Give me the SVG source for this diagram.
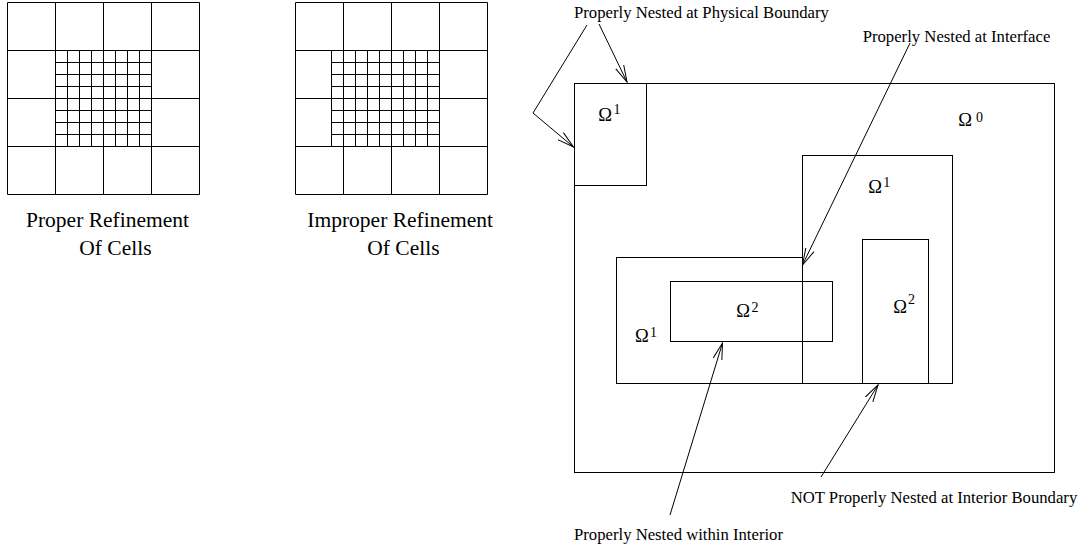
<svg xmlns="http://www.w3.org/2000/svg" width="1083" height="548" viewBox="0 0 1083 548">
<style>
.ln{fill:none;stroke:#000;stroke-width:1}
.t{font-family:"Liberation Serif","Times New Roman",serif;fill:#000}
.cap{font-size:21.5px}
.lab{font-size:16.7px}
.om{font-size:18.5px}
.sup{font-size:14px}
</style>
<defs>
<marker id="ah" viewBox="0 0 18 10" refX="17" refY="5" markerWidth="18" markerHeight="10" markerUnits="userSpaceOnUse" orient="auto">
<path d="M0,0.5 L17,5 L0,9.5" fill="none" stroke="#000" stroke-width="1"/>
</marker>
</defs>
<rect width="1083" height="548" fill="#fff"/>

<g id="grid-proper">
<path class="ln" d="M7.5 2.5V194.5M55.5 2.5V194.5M103.5 2.5V194.5M151.5 2.5V194.5M199.5 2.5V194.5M7.5 2.5H199.5M7.5 50.5H199.5M7.5 98.5H199.5M7.5 146.5H199.5M7.5 194.5H199.5M67.5 50.5V146.5M79.5 50.5V146.5M91.5 50.5V146.5M115.5 50.5V146.5M127.5 50.5V146.5M139.5 50.5V146.5M55.5 62.5H151.5M55.5 74.5H151.5M55.5 86.5H151.5M55.5 110.5H151.5M55.5 122.5H151.5M55.5 134.5H151.5"/>
<text class="t cap" x="26" y="226.7">Proper Refinement</text>
<text class="t cap" x="79.3" y="255">Of Cells</text>
</g>

<g id="grid-improper">
<path class="ln" d="M295.5 2.5V194.5M343.5 2.5V194.5M391.5 2.5V194.5M439.5 2.5V194.5M487.5 2.5V194.5M295.5 2.5H487.5M295.5 50.5H487.5M295.5 98.5H487.5M295.5 146.5H487.5M295.5 194.5H487.5M331.5 50.5V146.5M355.5 50.5V146.5M367.5 50.5V146.5M379.5 50.5V146.5M403.5 50.5V146.5M415.5 50.5V146.5M427.5 50.5V146.5M331.5 62.5H439.5M331.5 74.5H439.5M331.5 86.5H439.5M331.5 110.5H439.5M331.5 122.5H439.5M331.5 134.5H439.5"/>
<text class="t cap" x="307.3" y="226.7">Improper Refinement</text>
<text class="t cap" x="367.3" y="255">Of Cells</text>
</g>

<g id="omega0">
<rect class="ln" x="574.5" y="83.5" width="480" height="389"/>
<text class="t om" x="958.3" y="126">Ω</text>
<text class="t sup" x="976" y="122">0</text>
</g>

<g id="omega1-corner">
<rect class="ln" x="574.5" y="83.5" width="72" height="102"/>
<text class="t om" x="598.3" y="120.7">Ω</text>
<text class="t sup" x="613.5" y="113.5">1</text>
</g>

<g id="omega1-right">
<rect class="ln" x="802.5" y="155.5" width="150" height="228"/>
<text class="t om" x="868.3" y="192.7">Ω</text>
<text class="t sup" x="883.3" y="186.5">1</text>
</g>

<g id="omega1-left">
<rect class="ln" x="616.5" y="257.5" width="186" height="126"/>
<text class="t om" x="635" y="341.7">Ω</text>
<text class="t sup" x="650" y="336.5">1</text>
</g>

<g id="omega2-inner">
<rect class="ln" x="670.5" y="281.5" width="162" height="60"/>
<text class="t om" x="736.2" y="317.3">Ω</text>
<text class="t sup" x="751.5" y="311.5">2</text>
</g>

<g id="omega2-right">
<rect class="ln" x="862.5" y="239.5" width="66" height="144"/>
<text class="t om" x="893.3" y="313.3">Ω</text>
<text class="t sup" x="908" y="304">2</text>
</g>

<g id="labels">
<text class="t lab" x="574" y="18.3">Properly Nested at Physical Boundary</text>
<text class="t lab" x="862.7" y="41.7">Properly Nested at Interface</text>
<text class="t lab" x="790.7" y="503">NOT Properly Nested at Interior Boundary</text>
<text class="t lab" x="574" y="540">Properly Nested within Interior</text>
</g>

<g id="connectors" class="ln">
<polyline class="ln" points="587,25 533,113 573.5,147" marker-end="url(#ah)"/>
<line class="ln" x1="599" y1="24" x2="627" y2="82" marker-end="url(#ah)"/>
<line class="ln" x1="910" y1="43" x2="802.5" y2="265" marker-end="url(#ah)"/>
<line class="ln" x1="670" y1="515" x2="722.5" y2="343" marker-end="url(#ah)"/>
<line class="ln" x1="821" y1="477" x2="878" y2="385" marker-end="url(#ah)"/>
</g>
</svg>
